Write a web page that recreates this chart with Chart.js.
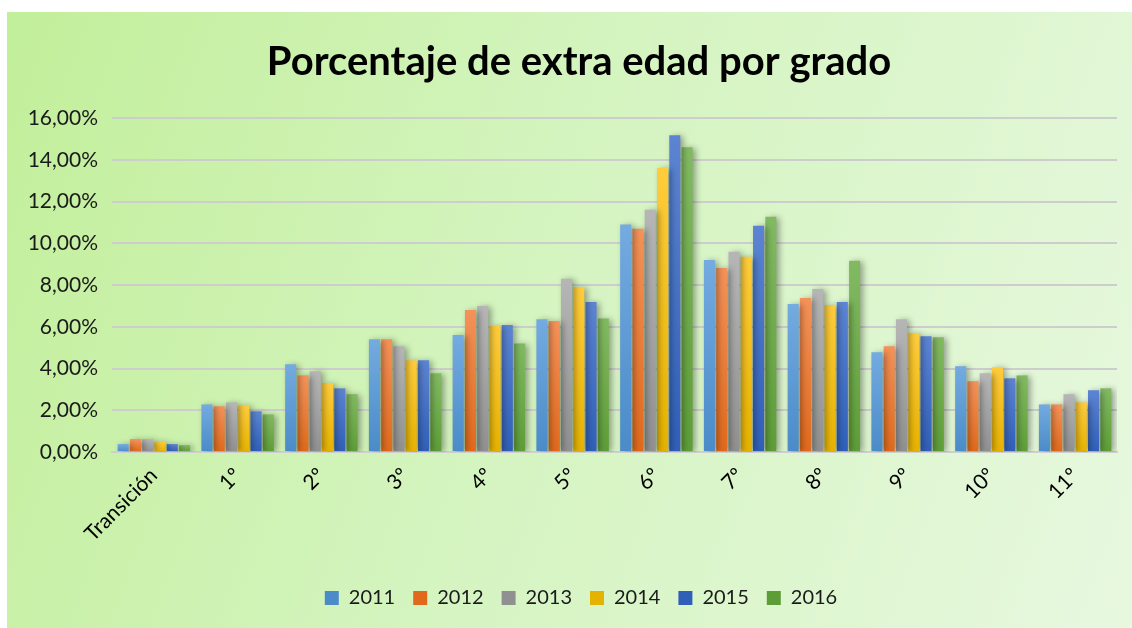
<!DOCTYPE html>
<html lang="es">
<head>
    <meta charset="UTF-8">
    <title>Porcentaje de extra edad por grado</title>
    <script src="https://cdn.jsdelivr.net/npm/chart.js"></script>
    <style>
        body { margin: 0; background: #fff; }
        .marco {
            position: absolute; left: 7px; top: 12px; width: 1125px; height: 616px;
            background: linear-gradient(110deg, #c2ef9a 0%, #d4f4bf 45%, #e7f8df 100%);
        }
    </style>
</head>
<body>
    <div class="marco">
        <canvas id="grafico" width="1125" height="616"></canvas>
    </div>

    <script>
        // datos (porcentaje)
        const categorias = ['Transición', '1º', '2º', '3º', '4º', '5º', '6º', '7º', '8º', '9º', '10º', '11º'];
        const anios = ['2011', '2012', '2013', '2014', '2015', '2016'];
        const v2011 = [0.38, 2.28, 4.20, 5.40, 5.60, 6.36, 10.90, 9.20, 7.09, 4.78, 4.11, 2.28];
        const v2012 = [0.62, 2.19, 3.67, 5.40, 6.80, 6.27, 10.70, 8.82, 7.38, 5.07, 3.39, 2.28];
        const v2013 = [0.62, 2.38, 3.87, 5.07, 7.00, 8.30, 11.60, 9.59, 7.81, 6.36, 3.77, 2.77];
        const v2014 = [0.50, 2.24, 3.30, 4.40, 6.03, 7.90, 13.60, 9.35, 7.04, 5.70, 4.06, 2.38];
        const v2015 = [0.38, 1.95, 3.05, 4.40, 6.08, 7.18, 15.17, 10.84, 7.18, 5.55, 3.53, 2.96];
        const v2016 = [0.33, 1.80, 2.77, 3.77, 5.20, 6.40, 14.60, 11.27, 9.16, 5.50, 3.67, 3.05];
        const series = [v2011, v2012, v2013, v2014, v2015, v2016];

        // colores: arriba claro, abajo oscuro
        const colores = [
            ['#74abe0', '#4a8bc8'],
            ['#f4925a', '#e0691b'],
            ['#b6b6b6', '#909090'],
            ['#ffcc3c', '#e6b200'],
            ['#5c84d2', '#2f5fb8'],
            ['#82ba62', '#5d9d37']
        ];

        function relleno(i) {
            return function(ctx) {
                const chart = ctx.chart;
                if (ctx.type !== 'data' || !chart.chartArea) return colores[i][1];
                const y = chart.scales.y;
                const g = chart.ctx.createLinearGradient(0, y.getPixelForValue(ctx.raw), 0, y.getPixelForValue(0));
                g.addColorStop(0, colores[i][0]);
                g.addColorStop(1, colores[i][1]);
                return g;
            };
        }

        const sombra = {
            id: 'sombra',
            beforeDatasetsDraw(chart) {
                const c = chart.ctx;
                c.save();
                c.shadowColor = 'rgba(0,0,0,0.35)';
                c.shadowBlur = 6;
                c.shadowOffsetX = 3;
                c.shadowOffsetY = 1;
            },
            afterDatasetsDraw(chart) {
                chart.ctx.restore();
            }
        };

        // titulo y leyenda un poco corridos a la derecha, como en el original
        const centrar = {
            id: 'centrar',
            afterLayout(chart) {
                if (chart.titleBlock) chart.titleBlock.left += 34;
                if (chart.legend) chart.legend.left += 38;
            }
        };

        Chart.defaults.font.family = 'Lato, "Open Sans", sans-serif';
        Chart.defaults.color = '#1a1a1a';

        new Chart(document.getElementById('grafico'), {
            type: 'bar',
            data: {
                labels: categorias,
                datasets: anios.map((a, i) => ({
                    label: a,
                    data: series[i],
                    backgroundColor: relleno(i),
                    borderWidth: 0,
                    categoryPercentage: 0.88,
                    barPercentage: 0.9
                }))
            },
            options: {
                responsive: false,
                animation: false,
                layout: { padding: { left: 0, right: 15, top: 0, bottom: 10 } },
                plugins: {
                    title: {
                        display: true,
                        text: 'Porcentaje de extra edad por grado',
                        color: '#000',
                        font: { size: 40, weight: 'bold' },
                        padding: { top: 26, bottom: 32 }
                    },
                    legend: {
                        position: 'bottom',
                        labels: {
                            boxWidth: 14, boxHeight: 14, padding: 18,
                            font: { size: 20 }
                        }
                    },
                    tooltip: { enabled: false }
                },
                scales: {
                    x: {
                        grid: { display: false },
                        border: { color: '#cfcfcf', width: 2 },
                        ticks: { maxRotation: 45, minRotation: 45, font: { size: 21 }, color: '#000' },
                        afterFit(s) { s.height = 118; }
                    },
                    y: {
                        min: 0, max: 16,
                        ticks: {
                            stepSize: 2, padding: 14, font: { size: 21 },
                            callback: v => v.toFixed(2).replace('.', ',') + '%'
                        },
                        grid: { color: '#cdcdcd', lineWidth: 2, drawTicks: false },
                        border: { display: false },
                        afterFit(s) { s.width = 105; }
                    }
                }
            },
            plugins: [sombra, centrar]
        });
    </script>
</body>
</html>
